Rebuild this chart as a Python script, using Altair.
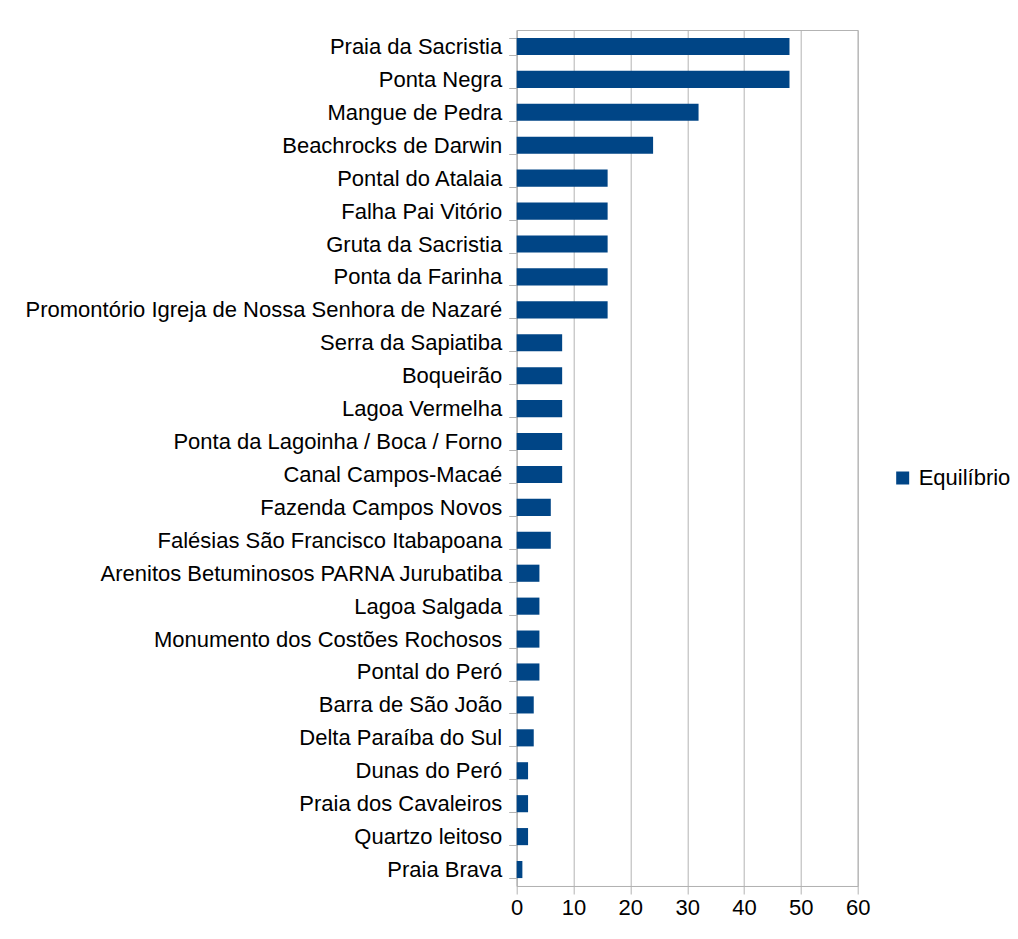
import altair as alt
import pandas as pd

sites = [
    "Praia da Sacristia", "Ponta Negra", "Mangue de Pedra", "Beachrocks de Darwin",
    "Pontal do Atalaia", "Falha Pai Vitório", "Gruta da Sacristia", "Ponta da Farinha",
    "Promontório Igreja de Nossa Senhora de Nazaré", "Serra da Sapiatiba", "Boqueirão",
    "Lagoa Vermelha", "Ponta da Lagoinha / Boca / Forno", "Canal Campos-Macaé",
    "Fazenda Campos Novos", "Falésias São Francisco Itabapoana",
    "Arenitos Betuminosos PARNA Jurubatiba", "Lagoa Salgada",
    "Monumento dos Costões Rochosos", "Pontal do Peró", "Barra de São João",
    "Delta Paraíba do Sul", "Dunas do Peró", "Praia dos Cavaleiros",
    "Quartzo leitoso", "Praia Brava",
]
values = [48, 48, 32, 24, 16, 16, 16, 16, 16, 8, 8, 8, 8, 8, 6, 6, 4, 4, 4, 4, 3, 3, 2, 2, 2, 1]
series = ["Equilíbrio"] * len(sites)
x_ticks = [0, 10, 20, 30, 40, 50, 60]

df = pd.DataFrame({"site": sites, "value": values, "series": series})

FONT = "Liberation Sans"
GRID = "#b3b3b3"
FS = 22

chart = alt.Chart(df).mark_bar(color="#004586").encode(
    x=alt.X("value:Q",
            scale=alt.Scale(domain=[0, 60], nice=False),
            axis=alt.Axis(values=x_ticks, title=None, grid=True, gridColor=GRID,
                          domainColor=GRID, tickColor=GRID, tickSize=8,
                          labelFont=FONT, labelFontSize=FS, labelColor="#000000",
                          labelPadding=4, labelFlush=False)),
    y=alt.Y("site:N", sort=sites,
            scale=alt.Scale(paddingInner=0.48, paddingOuter=0.24),
            axis=alt.Axis(title=None, tickBand="extent", grid=False,
                          domainColor=GRID, tickColor=GRID, tickSize=8,
                          labelFont=FONT, labelFontSize=FS, labelColor="#000000",
                          labelPadding=7, labelLimit=0)),
    color=alt.Color("series:N",
                    scale=alt.Scale(range=["#004586"]),
                    legend=alt.Legend(title=None, orient="none", legendX=375, legendY=437,
                                      symbolType="square", symbolSize=169,
                                      symbolStrokeWidth=0,
                                      labelFont=FONT, labelFontSize=FS,
                                      labelColor="#000000", labelOffset=5)),
).properties(
    width=341,
    height=856,
    autosize=alt.AutoSizeParams(type="none"),
    padding={"left": 508.7, "top": 22, "right": 152, "bottom": 35},
).configure_view(stroke=GRID)

chart.save("out.html", embed_options={"renderer": "svg", "actions": False})
